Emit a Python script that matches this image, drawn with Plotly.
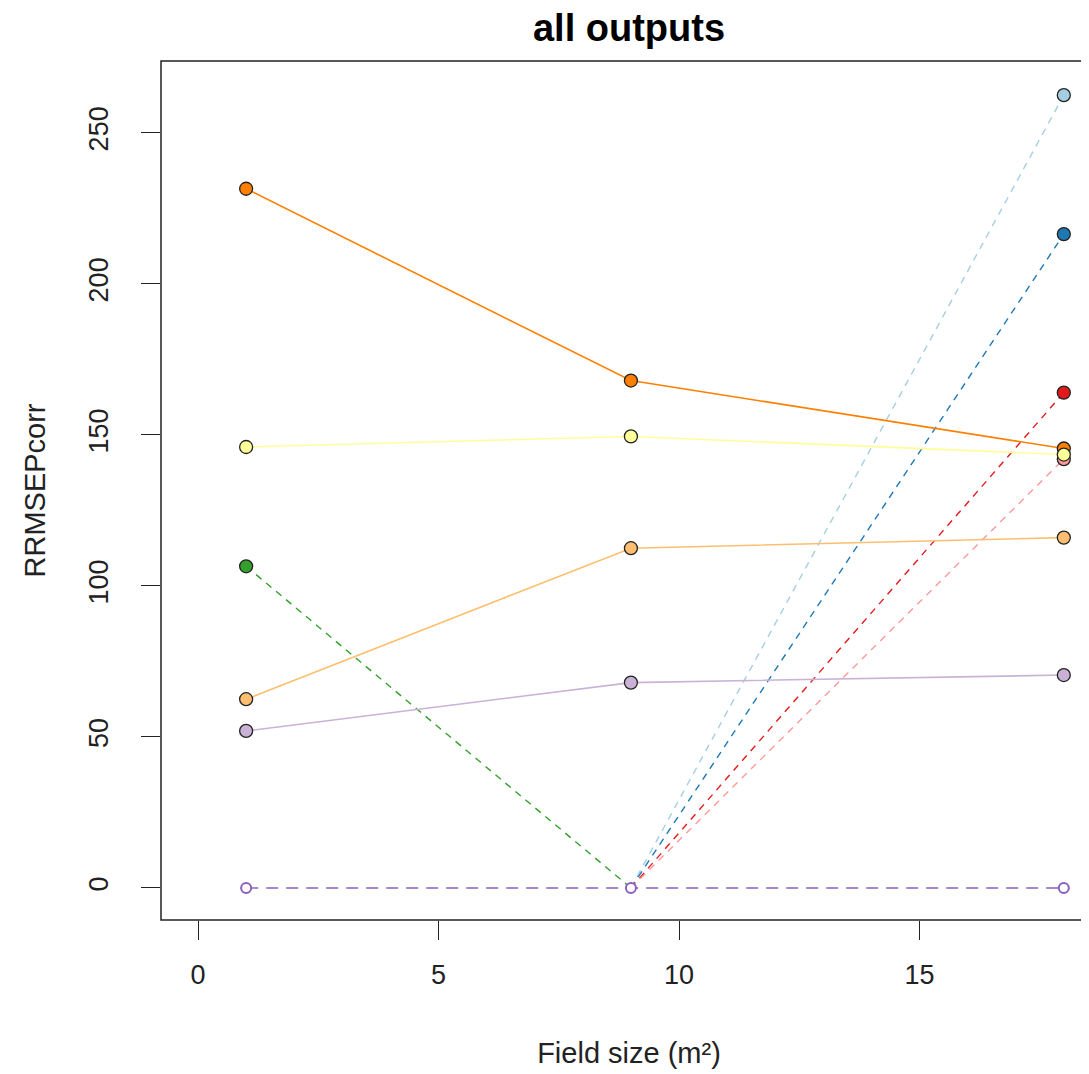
import plotly.graph_objects as go

# Data
field_size = [1, 9, 18]
orange_vals = [231.5, 168.0, 145.5]
yellow_vals = [146.0, 149.5, 143.5]
lightorange_vals = [62.5, 112.5, 116.0]
lightpurple_vals = [52.0, 68.0, 70.5]
green_vals = [106.5, 0.0, None]
lightblue_vals = [None, 0.0, 262.5]
blue_vals = [None, 0.0, 216.5]
red_vals = [None, 0.0, 164.0]
pink_vals = [None, 0.0, 142.0]
purple_vals = [0.0, 0.0, 0.0]

x_ticks = [0, 5, 10, 15]
y_ticks = [0, 50, 100, 150, 200, 250]

FONT = "Liberation Sans, Arial, sans-serif"

fig = go.Figure()

# (values, colour, dash, hollow marker)
specs = [
    (lightblue_vals, "#A6CEE3", "dash", False),
    (blue_vals, "#1F78B4", "dash", False),
    (red_vals, "#E31A1C", "dash", False),
    (pink_vals, "#FB9A99", "dash", False),
    (green_vals, "#33A02C", "dash", False),
    (purple_vals, "#8B5FBF", "dash", True),
    (lightpurple_vals, "#CAB2D6", "solid", False),
    (lightorange_vals, "#FDBF6F", "solid", False),
    (orange_vals, "#FF7F00", "solid", False),
    (yellow_vals, "#FFFF99", "solid", False),
]

# lines first
for vals, col, dash, hollow in specs:
    fig.add_trace(go.Scatter(
        x=field_size, y=vals, mode="lines", connectgaps=False,
        line=dict(color=col, width=1.6 if dash == "solid" else 1.4,
                  dash=("12px,8px" if hollow else "7px,6px") if dash == "dash" else "solid"),
        showlegend=False, hoverinfo="skip"))

# markers (zero values of the dashed series from 9 onward are not marked)
for vals, col, dash, hollow in specs:
    if hollow:
        fig.add_trace(go.Scatter(
            x=field_size, y=vals, mode="markers",
            marker=dict(size=10, color="white", line=dict(color=col, width=2)),
            showlegend=False))
    else:
        mx = [x for x, v in zip(field_size, vals) if v not in (None, 0.0)]
        my = [v for v in vals if v not in (None, 0.0)]
        fig.add_trace(go.Scatter(
            x=mx, y=my, mode="markers",
            marker=dict(size=13, color=col, line=dict(color="#222222", width=1.3)),
            showlegend=False))

fig.update_layout(
    width=1089, height=1074,
    margin=dict(l=153, r=0, t=53, b=162, autoexpand=False),
    paper_bgcolor="white", plot_bgcolor="white",
    title=dict(text="<b>all outputs</b>", x=0.5, xanchor="center",
               xref="paper", y=1 - 20 / 1074, yanchor="middle",
               font=dict(family=FONT, size=38, color="black")),
    font=dict(family=FONT, color="#222222"),
    xaxis=dict(range=[-0.77, 18.69], tickvals=x_ticks, ticks="outside",
               ticklen=19, tickwidth=1.3, tickcolor="#222222",
               showgrid=False, zeroline=False, showline=False,
               automargin=False, ticklabelstandoff=12,
               tickfont=dict(size=27, color="#222222"),
               title=dict(text="Field size (m²)", standoff=53,
                          font=dict(size=29, color="#222222"))),
    yaxis=dict(range=[-10.6, 273.8], tickvals=y_ticks, ticks="outside",
               ticklen=19, tickwidth=1.3, tickcolor="#222222",
               showgrid=False, zeroline=False, showline=False,
               automargin=False, tickangle=-90, ticklabelstandoff=22,
               tickfont=dict(size=27, color="#222222"),
               title=dict(text="RRMSEPcorr", standoff=30,
                          font=dict(size=29, color="#222222"))),
    shapes=[dict(type="rect", xref="paper", yref="paper",
                 x0=0, x1=1.02, y0=0, y1=1,
                 line=dict(color="#222222", width=1.5))],
)

fig.write_html("out.html")
